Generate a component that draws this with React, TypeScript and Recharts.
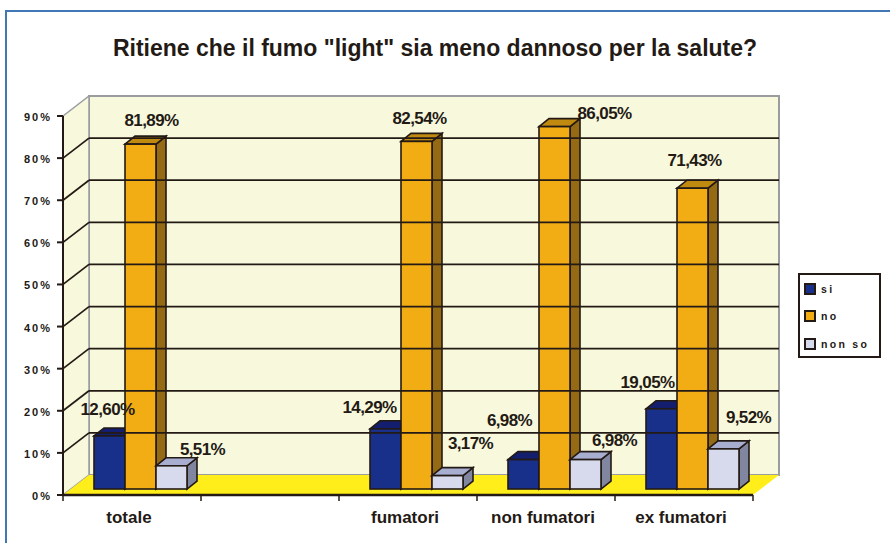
import { BarChart, Bar, XAxis, YAxis, Legend, LabelList, ReferenceLine, usePlotArea } from "recharts";

const categories = ["totale", "", "fumatori", "non fumatori", "ex fumatori"];
const si = [12.6, null, 14.29, 6.98, 19.05];
const no = [81.89, null, 82.54, 86.05, 71.43];
const nonSo = [5.51, null, 3.17, 6.98, 9.52];
const yTicks = [0, 10, 20, 30, 40, 50, 60, 70, 80, 90];
const gridTicks = [10, 20, 30, 40, 50, 60, 70, 80];
const boundaryTicks = [0, 1, 2, 3, 4, 5];

// hand placed label offsets from the top centre of each bar, as in the original
// (the empty category draws no bar, so there are only four entries)
const siNudge = [[-2, -26], [-16, -21], [-14, -39], [-14, -26]];
const noNudge = [[11, -24], [3, -23], [50, -13], [2, -28]];
const nonSoNudge = [[31, -16], [23, -32], [29, -19], [25, -31]];

const chartData = categories.map((name, i) => ({
  name,
  slot: i,
  si: si[i],
  no: no[i],
  nonSo: nonSo[i],
}));

const INK = "#231a15";
const WALL = "#f8f8dc";
const DEPTH_X = 26;
const DEPTH_Y = 20;
// bars stand a bit behind the front edge of the floor
const BAR_X = 8;
const BAR_Y = 6;
const BAR_DX = 10;
const BAR_DY = 8;

const pts = (p: number[][]) => p.map((q) => q.join(",")).join(" ");

function Walls() {
  const area = usePlotArea();
  if (!area) return null;
  const { x, y, width: w, height: h } = area;
  const b = y + h;
  return (
    <g>
      <rect x={x + DEPTH_X} y={y - DEPTH_Y} width={w} height={h} fill={WALL} stroke="#9a9ca0" strokeWidth={2} />
      <polygon points={pts([[x, y], [x + DEPTH_X, y - DEPTH_Y], [x + DEPTH_X, b - DEPTH_Y], [x, b]])} fill={WALL} stroke="#9a9ca0" strokeWidth={1.5} />
      <polygon points={pts([[x, b], [x + DEPTH_X, b - DEPTH_Y], [x + w + DEPTH_X, b - DEPTH_Y], [x + w, b]])} fill="#ffee1a" />
    </g>
  );
}

function GridLine(props: any) {
  const { x1, x2, y1 } = props;
  const top = y1 - DEPTH_Y;
  return (
    <g stroke={INK} strokeWidth={1.7}>
      <line x1={x1} y1={y1} x2={x1 + DEPTH_X} y2={top} />
      <line x1={x1 + DEPTH_X} y1={top} x2={x2 + DEPTH_X} y2={top} />
    </g>
  );
}

function Box3D(props: any) {
  const { x, y, width, height, front, top, side } = props;
  if (height == null || !width) return <g />;
  const l = x + BAR_X;
  const t = y - BAR_Y;
  const r = l + width;
  const b = t + height;
  return (
    <g stroke={INK} strokeWidth={1.6} strokeLinejoin="miter">
      <polygon points={pts([[r, t], [r + BAR_DX, t - BAR_DY], [r + BAR_DX, b - BAR_DY], [r, b]])} fill={side} />
      <polygon points={pts([[l, t], [l + BAR_DX, t - BAR_DY], [r + BAR_DX, t - BAR_DY], [r, t]])} fill={top} />
      <rect x={l} y={t} width={width} height={height} fill={front} />
    </g>
  );
}

const makeLabel = (nudge: number[][]) => (props: any) => {
  const { x, y, width, value, index } = props;
  const n = nudge[index];
  if (value == null || !n) return <g />;
  return (
    <text
      x={x + width / 2 + BAR_X + n[0]}
      y={y - BAR_Y + n[1]}
      textAnchor="middle"
      dominantBaseline="central"
      fontFamily="Liberation Sans"
      fontWeight="bold"
      fontSize={17}
      letterSpacing={-0.6}
      fill={INK}
    >
      {value.toFixed(2).replace(".", ",")}%
    </text>
  );
};

function YTick(props: any) {
  const { x, y, payload } = props;
  return (
    <text x={x - 3} y={y + 1} textAnchor="end" dominantBaseline="central" fontFamily="Liberation Sans" fontWeight="bold" fontSize={11} letterSpacing={2} fill={INK}>
      {payload.value}%
    </text>
  );
}

function XTick(props: any) {
  const { x, y, payload } = props;
  return (
    <text x={x - 3} y={y + 13} textAnchor="middle" dominantBaseline="central" fontFamily="Liberation Sans" fontWeight="bold" fontSize={17} fill={INK}>
      {payload.value}
    </text>
  );
}

function LegendBox({ payload }: any) {
  return (
    <div style={{ width: 83, height: 85, boxSizing: "border-box", border: `2px solid ${INK}`, background: "#fff", padding: "0 0 0 4px" }}>
      {(payload || []).map((p: any) => (
        <div key={p.value} style={{ display: "flex", alignItems: "center", height: 27.5, fontFamily: "Liberation Sans", fontWeight: "bold", fontSize: 10.5, letterSpacing: 2.3, color: INK }}>
          <span style={{ width: 8, height: 8, border: `2px solid ${INK}`, background: p.color, marginRight: 5 }} />
          {p.value}
        </div>
      ))}
    </div>
  );
}

export default function App() {
  return (
    <div style={{ position: "absolute", left: 0, top: 0, width: 890, height: 543, background: "#fff", overflow: "hidden" }}>
      <div style={{ position: "absolute", left: 5, top: 10, width: 900, height: 560, border: "2px solid #3f78b4" }} />
      <div style={{ position: "absolute", left: 0, width: 870, top: 35, textAlign: "center", fontFamily: "Liberation Sans", fontWeight: "bold", fontSize: 23, color: INK }}>
        Ritiene che il fumo "light" sia meno dannoso per la salute?
      </div>
      <BarChart
        width={890}
        height={543}
        data={chartData}
        margin={{ top: 116, right: 54, bottom: 0, left: 0 }}
        barSize={31}
        barGap={0}
        style={{ position: "absolute", left: 0, top: 0 }}
      >
        <Walls />
        {gridTicks.map((t) => (
          <ReferenceLine key={t} y={t} xAxisId="cat" shape={GridLine} />
        ))}
        {/* ticks sit between the categories, so they get their own axis */}
        <XAxis
          xAxisId="boundary"
          dataKey="slot"
          type="number"
          domain={[0, 5]}
          allowDataOverflow
          ticks={boundaryTicks}
          interval={0}
          height={1}
          tick={() => <g />}
          tickSize={6}
          axisLine={{ stroke: INK, strokeWidth: 2.5 }}
          tickLine={{ stroke: INK, strokeWidth: 1.5 }}
        />
        <XAxis xAxisId="cat" dataKey="name" interval={0} height={47} tick={XTick} tickLine={false} axisLine={false} />
        <YAxis
          width={63}
          domain={[0, 90]}
          ticks={yTicks}
          interval={0}
          tick={YTick}
          tickSize={6}
          axisLine={{ stroke: INK, strokeWidth: 2 }}
          tickLine={{ stroke: INK, strokeWidth: 2 }}
        />
        <Legend
          layout="vertical"
          align="right"
          verticalAlign="top"
          itemSorter={null}
          content={LegendBox}
          wrapperStyle={{ left: 798, top: 273, width: 83, right: "auto" }}
        />
        <Bar xAxisId="cat" dataKey="si" name="si" fill="#18308a" isAnimationActive={false} shape={(p: any) => <Box3D {...p} front="#18308a" top="#131f6e" side="#10205f" />}>
          <LabelList dataKey="si" content={makeLabel(siNudge)} />
        </Bar>
        <Bar xAxisId="cat" dataKey="no" name="no" fill="#f2ac14" isAnimationActive={false} shape={(p: any) => <Box3D {...p} front="#f2ac14" top="#c08a10" side="#946a14" />}>
          <LabelList dataKey="no" content={makeLabel(noNudge)} />
        </Bar>
        <Bar xAxisId="cat" dataKey="nonSo" name="non so" fill="#d6daec" isAnimationActive={false} shape={(p: any) => <Box3D {...p} front="#d6daec" top="#a8aed0" side="#80869f" />}>
          <LabelList dataKey="nonSo" content={makeLabel(nonSoNudge)} />
        </Bar>
      </BarChart>
    </div>
  );
}
